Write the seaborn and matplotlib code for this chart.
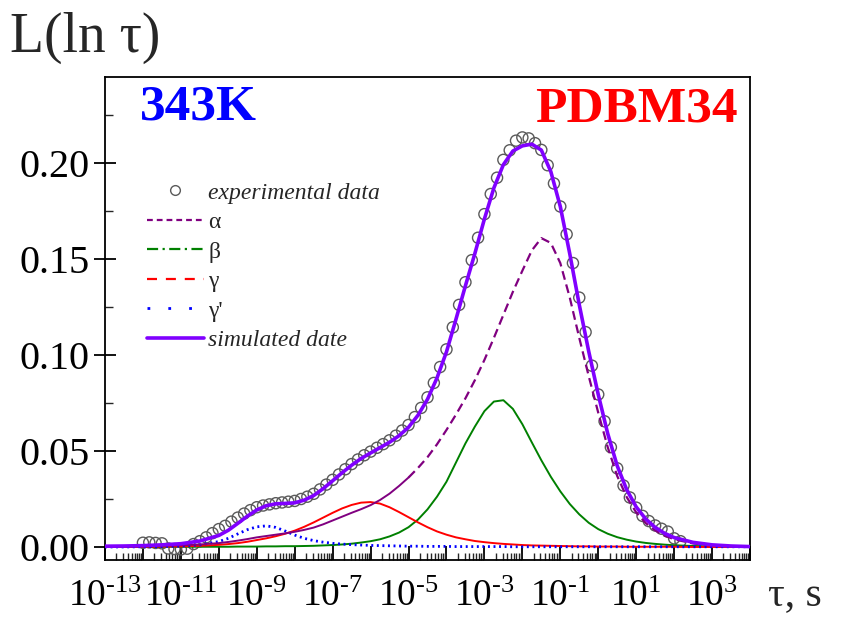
import numpy as np
import pandas as pd
import matplotlib
matplotlib.use("Agg")
import matplotlib.pyplot as plt
import seaborn as sns
from matplotlib.lines import Line2D
from matplotlib.ticker import LogLocator, FuncFormatter, MultipleLocator, NullFormatter

# ---- relaxation-time distribution, log10(tau / s) grid for the fitted curves ----
log_tau = [-13, -12.5, -12, -11.5, -11, -10.5,
           -10, -9.75, -9.5, -9.25, -9, -8.75, -8.5, -8.25, -8, -7.75, -7.5, -7.25,
           -7, -6.75, -6.5, -6.25, -6, -5.75, -5.5, -5.25, -5, -4.75, -4.5, -4.25,
           -4, -3.75, -3.5, -3.25, -3, -2.75, -2.5, -2.25, -2, -1.75, -1.5, -1.25,
           -1, -0.75, -0.5, -0.25, 0, 0.25, 0.5, 0.75, 1, 1.25, 1.5, 1.75, 2,
           2.5, 3, 3.5, 4]

alpha_L = [0.0002, 0.0003, 0.0004, 0.0006, 0.0009, 0.0013,
           0.0020, 0.0026, 0.0033, 0.0041, 0.0050, 0.0057, 0.0064, 0.0071, 0.0079, 0.0089, 0.0101, 0.0118,
           0.0138, 0.0158, 0.0178, 0.0197, 0.0218, 0.0245, 0.0278, 0.0318, 0.0362, 0.0412, 0.0468, 0.0535,
           0.0610, 0.0690, 0.0775, 0.0870, 0.0975, 0.1090, 0.1210, 0.1330, 0.1440, 0.1546, 0.1610, 0.1585,
           0.1480, 0.1300, 0.1090, 0.0890, 0.0700, 0.0520, 0.0370, 0.0260, 0.0180, 0.0125, 0.0086, 0.0059, 0.0040,
           0.0018, 0.0008, 0.0003, 0.0001]

beta_L = [0.0000, 0.0000, 0.0000, 0.0001, 0.0001, 0.0001,
          0.0001, 0.0001, 0.0002, 0.0002, 0.0002, 0.0003, 0.0003, 0.0004, 0.0004, 0.0005, 0.0006, 0.0008,
          0.0010, 0.0013, 0.0017, 0.0023, 0.0030, 0.0040, 0.0055, 0.0075, 0.0103, 0.0143, 0.0196, 0.0262,
          0.0340, 0.0440, 0.0540, 0.0628, 0.0708, 0.0758, 0.0765, 0.0720, 0.0640, 0.0545, 0.0452, 0.0366,
          0.0290, 0.0224, 0.0170, 0.0126, 0.0093, 0.0069, 0.0051, 0.0038, 0.0028, 0.0021, 0.0016, 0.0012, 0.0009,
          0.0005, 0.0003, 0.0002, 0.0001]

gamma_L = [0.0000, 0.0000, 0.0001, 0.0002, 0.0003, 0.0006,
           0.0011, 0.0015, 0.0020, 0.0027, 0.0036, 0.0045, 0.0056, 0.0069, 0.0085, 0.0105, 0.0128, 0.0153,
           0.0178, 0.0201, 0.0219, 0.0231, 0.0234, 0.0226, 0.0207, 0.0182, 0.0155, 0.0128, 0.0103, 0.0081,
           0.0064, 0.0050, 0.0040, 0.0031, 0.0025, 0.0020, 0.0016, 0.0013, 0.0010, 0.0008, 0.0007, 0.0006,
           0.0005, 0.0004, 0.0003, 0.0003, 0.0002, 0.0002, 0.0002, 0.0001, 0.0001, 0.0001, 0.0001, 0.0001, 0.0001,
           0.0000, 0.0000, 0.0000, 0.0000]

gamma_prime_L = [0.0000, 0.0000, 0.0001, 0.0002, 0.0004, 0.0011,
                 0.0028, 0.0045, 0.0068, 0.0090, 0.0105, 0.0110, 0.0102, 0.0083, 0.0062, 0.0045, 0.0033, 0.0025,
                 0.0019, 0.0015, 0.0012, 0.0010, 0.0008, 0.0007, 0.0006, 0.0005, 0.0004, 0.0004, 0.0003, 0.0003,
                 0.0003, 0.0002, 0.0002, 0.0002, 0.0002, 0.0002, 0.0002, 0.0001, 0.0001, 0.0001, 0.0001, 0.0001,
                 0.0001, 0.0001, 0.0001, 0.0001, 0.0001, 0.0001, 0.0001, 0.0001, 0.0001, 0.0001, 0.0001, 0.0001, 0.0001,
                 0.0001, 0.0001, 0.0001, 0.0001]

simulated_L = [0.0004, 0.0005, 0.0007, 0.0011, 0.0017, 0.0031,
               0.0060, 0.0087, 0.0123, 0.0160, 0.0193, 0.0215, 0.0225, 0.0227, 0.0230, 0.0244, 0.0268, 0.0304,
               0.0345, 0.0387, 0.0426, 0.0461, 0.0490, 0.0518, 0.0546, 0.0580, 0.0624, 0.0687, 0.0770, 0.0881,
               0.1017, 0.1187, 0.1362, 0.1531, 0.1710, 0.1872, 0.1993, 0.2064, 0.2091, 0.2100, 0.2069, 0.1957,
               0.1775, 0.1528, 0.1263, 0.1019, 0.0795, 0.0591, 0.0423, 0.0299, 0.0209, 0.0146, 0.0102, 0.0071, 0.0049,
               0.0024, 0.0011, 0.0005, 0.0002]

# ---- measured points ----
exp_log_tau = [-12.000, -11.833, -11.667, -11.500, -11.333, -11.167,
               -11.000, -10.833, -10.667, -10.500, -10.333, -10.167,
               -10.000, -9.833, -9.667, -9.500, -9.333, -9.167,
               -9.000, -8.833, -8.667, -8.500, -8.333, -8.167,
               -8.000, -7.833, -7.667, -7.500, -7.333, -7.167,
               -7.000, -6.833, -6.667, -6.500, -6.333, -6.167,
               -6.000, -5.833, -5.667, -5.500, -5.333, -5.167,
               -5.000, -4.833, -4.667, -4.500, -4.333, -4.167,
               -4.000, -3.833, -3.667, -3.500, -3.333, -3.167,
               -3.000, -2.833, -2.667, -2.500, -2.333, -2.167,
               -2.000, -1.833, -1.667, -1.500, -1.333, -1.167,
               -1.000, -0.833, -0.667, -0.500, -0.333, -0.167,
               0.000, 0.167, 0.333, 0.500, 0.667, 0.833,
               1.000, 1.167, 1.333, 1.500, 1.667, 1.833,
               2.000, 2.167]

exp_L = [0.0022, 0.0024, 0.0021, 0.0019, -0.0008, -0.0011,
         -0.0013, -0.0009, 0.0015, 0.0030, 0.0050, 0.0072,
         0.0093, 0.0110, 0.0132, 0.0153, 0.0174, 0.0192,
         0.0207, 0.0216, 0.0222, 0.0228, 0.0232, 0.0236,
         0.0240, 0.0250, 0.0262, 0.0277, 0.0300, 0.0325,
         0.0350, 0.0378, 0.0405, 0.0432, 0.0456, 0.0478,
         0.0497, 0.0517, 0.0536, 0.0556, 0.0580, 0.0607,
         0.0636, 0.0677, 0.0725, 0.0780, 0.0855, 0.0938,
         0.1030, 0.1145, 0.1262, 0.1380, 0.1495, 0.1612,
         0.1735, 0.1840, 0.1925, 0.2018, 0.2068, 0.2118,
         0.2135, 0.2130, 0.2105, 0.2070, 0.1990, 0.1895,
         0.1775, 0.1630, 0.1480, 0.1300, 0.1120, 0.0945,
         0.0795, 0.0655, 0.0520, 0.0410, 0.0320, 0.0258,
         0.0205, 0.0162, 0.0135, 0.0112, 0.0095, 0.0080,
         0.0045, 0.0030]

x_tick_exponents = [-13, -11, -9, -7, -5, -3, -1, 1, 3]

# ---- styling ----
sns.set_style("ticks")
plt.rcParams["font.family"] = ["Liberation Serif", "DejaVu Serif"]
plt.rcParams["mathtext.fontset"] = "stix"

C_ALPHA = "#800080"
C_BETA = "#008000"
C_GAMMA = "#ff0000"
C_GPRIME = "#0000ff"
C_SIM = "#8000ff"
C_EXP = "#5a5a5a"

fig = plt.figure(figsize=(8.41, 6.17), dpi=100)
ax = fig.add_axes([105 / 841, 1 - 560 / 617, (750 - 105) / 841, (560 - 77) / 617])

curves = pd.DataFrame({
    "log_tau": log_tau,
    "tau": 10.0 ** np.array(log_tau, dtype=float),
    "alpha": alpha_L,
    "beta": beta_L,
    "gamma": gamma_L,
    "gamma_prime": gamma_prime_L,
    "simulated": simulated_L,
})
points = pd.DataFrame({"tau": 10.0 ** np.array(exp_log_tau), "L": exp_L})

# measured points as open circles
sns.scatterplot(data=points, x="tau", y="L", ax=ax, marker="o", s=64,
                facecolors="none", edgecolors=C_EXP, linewidth=1.0, zorder=2,
                legend=False)

# component distributions
sns.lineplot(data=curves, x="tau", y="beta", ax=ax, color=C_BETA, lw=1.4,
             zorder=3, legend=False)
sns.lineplot(data=curves, x="tau", y="gamma", ax=ax, color=C_GAMMA, lw=1.4,
             zorder=3, legend=False)
sns.lineplot(data=curves, x="tau", y="gamma_prime", ax=ax, color=C_GPRIME, lw=2.0,
             zorder=3, legend=False)
ax.lines[-1].set_dashes([0.7, 1.3])
lo = curves[curves["log_tau"] <= -5]
hi = curves[curves["log_tau"] >= -5]
sns.lineplot(data=lo, x="tau", y="alpha", ax=ax, color=C_ALPHA, lw=1.4,
             zorder=3, legend=False)
sns.lineplot(data=hi, x="tau", y="alpha", ax=ax, color=C_ALPHA, lw=1.6,
             zorder=3, legend=False)
ax.lines[-1].set_dashes([4, 2.2])

# total simulated distribution
sns.lineplot(data=curves, x="tau", y="simulated", ax=ax, color=C_SIM, lw=2.6,
             zorder=4, legend=False)

# ---- axes ----
ax.set_xscale("log")
ax.set_xlim(1e-13, 1e4)
ax.set_ylim(-0.0068, 0.245)
ax.set_xlabel("")
ax.set_ylabel("")


def decade_label(v, pos):
    e = int(round(np.log10(v)))
    if e in x_tick_exponents:
        sign = "\u2010" if e < 0 else ""
        return r"$\mathregular{10^{%s%d}}$" % (sign, abs(e))
    return ""


ax.xaxis.set_major_locator(LogLocator(base=10, numticks=40))
ax.xaxis.set_major_formatter(FuncFormatter(decade_label))
ax.xaxis.set_minor_locator(LogLocator(base=10, subs=np.arange(2, 10), numticks=40))
ax.xaxis.set_minor_formatter(NullFormatter())
ax.yaxis.set_major_locator(MultipleLocator(0.05))
ax.yaxis.set_minor_locator(MultipleLocator(0.025))
ax.yaxis.set_major_formatter(FuncFormatter(lambda v, p: f"{v:.2f}"))

ax.tick_params(axis="x", which="major", direction="in", length=10, width=1.3,
               top=False, labelsize=27, pad=14, colors="black")
ax.tick_params(axis="x", which="minor", direction="in", length=5, width=1.0, top=False)
ax.tick_params(axis="y", which="major", direction="inout", length=16, width=1.3,
               right=False, labelsize=29, pad=3, colors="black")
ax.tick_params(axis="y", which="minor", direction="in", length=6, width=1.0, right=False)
for sp in ax.spines.values():
    sp.set_linewidth(1.3)
    sp.set_color("black")

# ---- legend ----
handles = [
    Line2D([], [], ls="none", marker="o", mfc="none", mec=C_EXP, ms=7, mew=1.0),
    Line2D([], [], color=C_ALPHA, lw=1.6, dashes=[2.6, 1.8]),
    Line2D([], [], color=C_BETA, lw=1.6, dashes=[5, 2, 1, 2]),
    Line2D([], [], color=C_GAMMA, lw=1.6, dashes=[4.5, 4]),
    Line2D([], [], color=C_GPRIME, lw=2.0, dashes=[1, 6.5]),
    Line2D([], [], color=C_SIM, lw=2.6),
]
labels = ["experimental data", "\u03b1", "\u03b2", "\u03b3", "\u03b3'", "simulated date"]
leg = fig.legend(handles, labels, loc="upper left",
                 bbox_to_anchor=(147 / 841, 1 - 182 / 617), frameon=False,
                 fontsize=17, handlelength=2.4, handletextpad=0.2,
                 labelspacing=0.34, borderpad=0, borderaxespad=0)
for i in (0, 5):
    leg.get_texts()[i].set_style("italic")

# ---- annotations ----
fig.text(10 / 841, 1 - 52 / 617, "L(ln \u03c4)", fontsize=40, va="baseline", ha="left")
fig.text(768 / 841, 1 - 606 / 617, "\u03c4, s", fontsize=30, va="baseline", ha="left")
fig.text(140 / 841, 1 - 120 / 617, "343K", fontsize=37, fontweight="bold",
         color="#0000ff", va="baseline", ha="left")
fig.text(738 / 841, 1 - 121 / 617, "PDBM34", fontsize=37, fontweight="bold",
         color="#ff0000", va="baseline", ha="right")

fig.savefig("out.png", dpi=100)
